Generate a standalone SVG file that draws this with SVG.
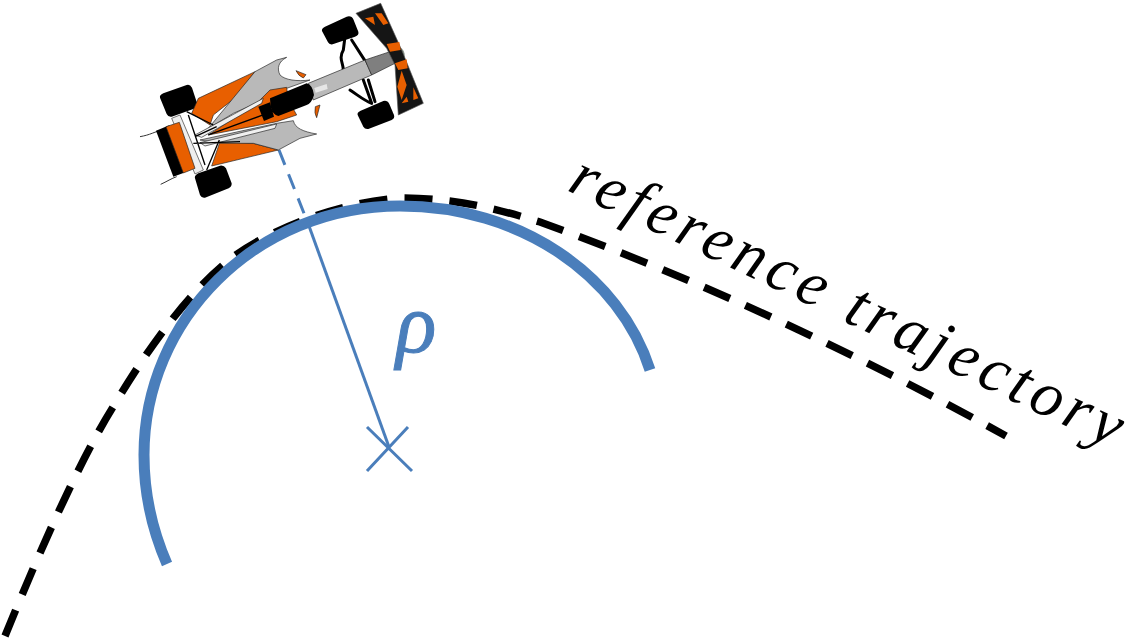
<svg xmlns="http://www.w3.org/2000/svg" width="1131" height="638" viewBox="0 0 1131 638">
<style>
.blue{fill:none;stroke:#4a7ebb;stroke-linecap:butt}
.k{fill:#000}.o{fill:#e85f00;stroke:#222;stroke-width:2}.g{fill:#b9b9b9;stroke:#222;stroke-width:2}
.w{fill:none;stroke:#000;stroke-width:9;stroke-linecap:round;stroke-linejoin:round}
.t{fill:none;stroke:#000;stroke-width:4}
.lab{font-family:"Liberation Serif",serif;font-style:italic}
</style>
<rect width="1131" height="638" fill="#fff"/>
<g id="connectors">
<path id="trajectory" fill="none" stroke="#000" stroke-width="7.5" stroke-dasharray="28 17" d="M5 636C40 550 80 460 113 407C150 345 190 290 233 257C270 230 335 203 400 198C460 198 500 210 540 222C700 280 860 355 1006 436"/>
<path id="radius-dashed" class="blue" stroke-width="3" stroke-dasharray="16 10" d="M279 150L309 226"/>
<path id="radius" class="blue" stroke-width="3" d="M309 226L389 447"/>
</g>
<g id="arc"><path class="blue" stroke-width="11" d="M167 564C150 525 144 490 144 455C144 320 255 206 400 206C520 206 620 275 650 370"/></g>
<g id="center"><path class="blue" stroke-width="3" d="M367 427L412 471M408 427L367 471"/></g>
<g id="car" transform="translate(130 0) scale(.33333)">
<path class="w" d="M645 110L640 150C625 175 640 190 640 210M665 120L710 190M700 240L725 310M660 270C690 290 700 300 725 310M715 240L735 305"/>
<path class="k" d="M576 93Q574 85 585 80L650 50Q665 46 670 58L685 95Q688 105 675 110L608 133Q598 135 594 127Z"/>
<path class="k" d="M683 345Q680 338 692 332L760 303Q772 300 778 312L792 345Q795 355 785 360L715 387Q705 389 700 380Z"/>
<path class="k" d="M90 293Q88 285 100 280L170 255Q180 252 186 263L202 312Q204 322 192 326L125 350Q115 352 110 342Z"/>
<path class="k" d="M195 535Q192 527 205 520L270 497Q282 495 288 505L305 550Q306 560 296 565L225 593Q215 595 210 585Z"/>
<path d="M30 410C60 405 75 395 100 388M92 553C110 545 125 535 140 530" fill="none" stroke="#333" stroke-width="3"/>
<path d="M125 355L150 345L220 510L195 522Z" fill="#eee" stroke="#333" stroke-width="2"/>
<path class="k" d="M78 392L118 376L162 518L130 530Z"/>
<path class="o" d="M108 380L148 367L195 505L160 519Z"/>
<path class="o" d="M205 295L375 215L320 290L250 345L240 375L185 340Z"/>
<path class="o" d="M245 498L445 450L370 430L270 425Z"/>
<path class="g" d="M535 250L705 180L725 225L550 300Z"/>
<path d="M705 180L780 155L795 190L725 225Z" fill="#7f7f7f" stroke="#222" stroke-width="2"/>
<path d="M775 155L815 145Q830 160 820 180L795 190Z" fill="#8f9a8f"/>
<path class="g" d="M375 215L440 180L470 172C445 185 440 205 450 225C465 240 500 245 540 240L470 265L400 300L310 340L235 385Z"/>
<path class="g" d="M210 420L440 370L490 362C495 385 520 395 560 402L510 415L445 450L370 430L270 430Z"/>
<path class="o" d="M235 405L380 310L420 270L470 262L475 300L500 345L440 365Z"/>
<path class="k" d="M420 295L530 250Q548 255 552 285Q545 310 530 315L445 348Q428 345 422 320Z"/>
<path class="k" d="M385 320L420 307L432 350L402 363Z"/>
<path d="M553 264L590 252L593 267L557 278Z" fill="#e6e6e6"/>
<path d="M195 405L400 295L395 310L215 412ZM210 428L440 372L435 385L225 438Z" fill="#f0f0f0" stroke="#222" stroke-width="2"/>
<path class="t" d="M170 335L250 375M175 345L225 495M230 510L268 420M190 430L330 425M195 410L260 380M235 405L440 330"/>
<path class="o" d="M498 212L528 224L520 234Q505 228 498 212ZM570 315L560 353Q552 340 556 320Z"/>
<path d="M678 40L752 10L815 150L880 310L805 345L800 270L795 195L770 145Z" fill="#151515" stroke="#555" stroke-width="2"/>
<path d="M705 55L730 50L735 75ZM735 40L755 40L775 70L760 75ZM770 132L808 126L812 150L780 155ZM795 190L830 178L833 205L805 210ZM802 260L815 212L830 255L815 300ZM815 310L830 290L835 305ZM850 262L865 295L850 300Z" fill="#e85f00"/>
</g>
<g id="rho-label"><text class="lab" x="396" y="352" font-size="84" fill="#4a7ebb" stroke="#4a7ebb" stroke-width="1">ρ</text></g>
<g id="trajectory-label"><text class="lab" transform="translate(566 190) rotate(25.3)" font-size="64" textLength="604" lengthAdjust="spacing">reference trajectory</text></g>
</svg>
